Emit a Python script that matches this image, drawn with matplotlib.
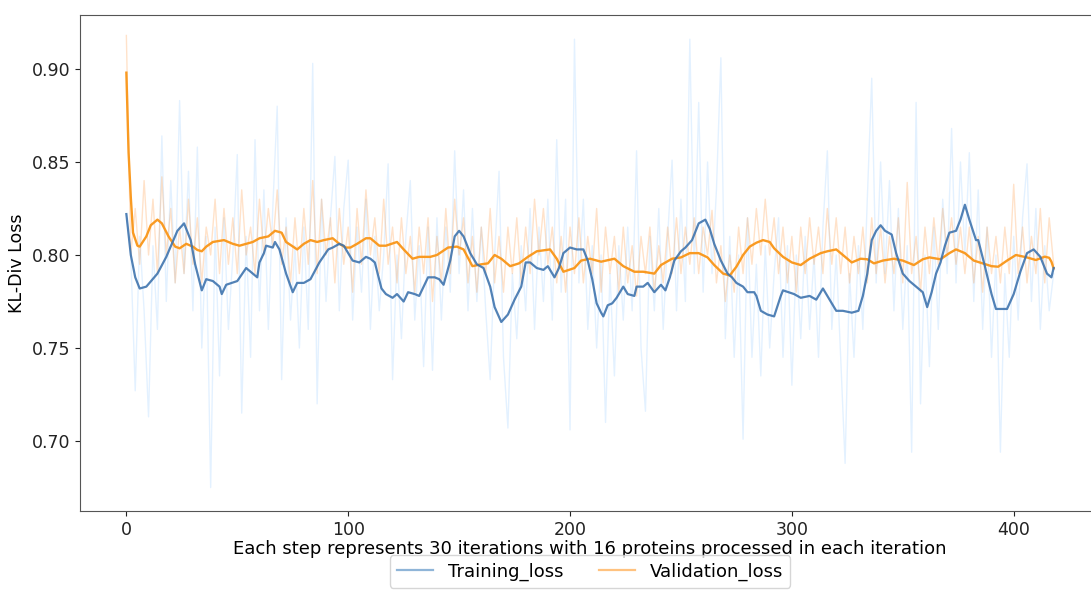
import numpy as np
import matplotlib
matplotlib.use("Agg")
import matplotlib.pyplot as plt
from matplotlib.lines import Line2D

# raw losses, sampled every 2 steps (0, 2, ..., 418)
raw_steps = np.arange(0, 419, 2)

train_raw = [
    .822, .800, .727, .810, .770, .713, .805, .760, .864, .775,
    .840, .785, .883, .790, .845, .770, .858, .750, .810, .675,
    .815, .735, .820, .760, .800, .854, .715, .810, .745, .862,
    .770, .835, .760, .825, .880, .733, .820, .765, .805, .750,
    .815, .760, .903, .720, .830, .775, .820, .853, .770, .825,
    .851, .765, .815, .780, .830, .760, .810, .770, .800, .849,
    .733, .800, .755, .810, .840, .765, .805, .740, .815, .738,
    .820, .765, .815, .780, .856, .790, .835, .770, .825, .775,
    .815, .770, .733, .800, .845, .745, .707, .790, .755, .805,
    .770, .825, .760, .815, .775, .830, .765, .862, .780, .830,
    .706, .916, .785, .830, .760, .805, .750, .800, .710, .790,
    .735, .805, .765, .815, .770, .856, .750, .716, .810, .770,
    .825, .760, .810, .851, .770, .830, .775, .916, .790, .882,
    .780, .850, .790, .835, .906, .755, .810, .745, .800, .701,
    .820, .745, .795, .735, .805, .750, .790, .820, .745, .805,
    .730, .800, .755, .810, .760, .800, .745, .815, .856, .760,
    .800, .745, .688, .790, .745, .805, .760, .830, .895, .785,
    .850, .790, .840, .770, .825, .760, .805, .694, .882, .720,
    .800, .740, .815, .760, .830, .790, .868, .785, .850, .800,
    .855, .775, .835, .760, .815, .745, .800, .694, .790, .745,
    .810, .765, .820, .849, .775, .825, .760, .805, .770, .790,
]

val_raw = [
    .918, .800, .825, .795, .840, .800, .830, .790, .842, .800,
    .825, .785, .815, .790, .830, .795, .820, .785, .815, .800,
    .830, .790, .825, .795, .820, .790, .835, .800, .815, .790,
    .830, .800, .825, .805, .835, .795, .815, .785, .820, .790,
    .825, .795, .840, .790, .830, .800, .820, .785, .825, .795,
    .815, .780, .825, .795, .835, .800, .820, .790, .830, .795,
    .815, .785, .820, .790, .810, .780, .815, .790, .820, .775,
    .810, .785, .825, .790, .830, .800, .820, .785, .810, .780,
    .815, .790, .825, .785, .810, .780, .815, .790, .820, .785,
    .815, .790, .830, .800, .825, .795, .815, .785, .810, .780,
    .815, .790, .820, .785, .810, .790, .825, .780, .815, .790,
    .810, .780, .815, .785, .805, .778, .810, .790, .815, .780,
    .805, .785, .815, .790, .820, .790, .815, .795, .820, .790,
    .815, .800, .824, .785, .805, .775, .800, .780, .815, .790,
    .820, .795, .825, .800, .830, .800, .820, .790, .815, .785,
    .810, .780, .815, .790, .820, .795, .815, .790, .825, .795,
    .820, .790, .815, .785, .810, .790, .815, .785, .820, .790,
    .815, .785, .810, .790, .820, .785, .839, .790, .810, .780,
    .815, .790, .820, .795, .825, .800, .820, .795, .815, .790,
    .815, .785, .810, .780, .815, .790, .810, .785, .815, .790,
    .838, .790, .815, .785, .810, .790, .825, .785, .820, .795,
]

# smoothed curves, read at selected steps
train_smooth_steps = [
    0, 2, 4, 6, 9, 14, 18, 23, 26, 27, 29, 31, 34, 36, 39, 42, 43, 45, 50, 54,
    59, 60, 62, 63, 66, 67, 69, 72, 75, 77, 80, 83, 87, 91, 93, 96, 98, 100, 102, 105,
    108, 110, 112, 115, 117, 120, 122, 125, 127, 130, 132, 134, 136, 139, 141, 143, 146, 148, 150, 152,
    155, 158, 161, 164, 166, 169, 172, 175, 178, 180, 182, 185, 188, 190, 193, 195, 197, 200, 203, 206,
    208, 210, 212, 214, 215, 217, 219, 221, 224, 226, 229, 230, 233, 235, 238, 241, 243, 245, 247, 250,
    252, 255, 258, 261, 263, 265, 268, 271, 273, 275, 278, 280, 283, 284, 286, 289, 292, 295, 296, 301,
    304, 308, 311, 314, 317, 320, 323, 327, 330, 332, 334, 336, 338, 340, 342, 345, 347, 350, 353, 356,
    359, 361, 363, 365, 367, 369, 371, 374, 376, 378, 380, 383, 384, 387, 390, 392, 397, 400, 403, 406,
    409, 412, 415, 417, 418,
]
train_smooth = [
    .822, .800, .788, .782, .783, .790, .799, .813, .817, .814, .808, .795, .781, .787, .786, .783, .779, .784, .786, .793,
    .788, .796, .801, .805, .804, .807, .803, .790, .780, .785, .785, .787, .796, .803, .804, .806, .805, .801, .797, .796,
    .799, .798, .796, .782, .779, .777, .779, .775, .780, .779, .778, .783, .788, .788, .787, .784, .797, .810, .813, .810,
    .801, .795, .793, .783, .772, .764, .768, .776, .783, .796, .796, .793, .792, .794, .788, .793, .801, .804, .803, .803,
    .797, .787, .774, .769, .767, .773, .774, .777, .783, .779, .778, .783, .783, .785, .780, .784, .781, .788, .797, .802,
    .804, .808, .817, .819, .814, .806, .797, .790, .788, .785, .783, .780, .780, .778, .770, .768, .767, .778, .781, .779,
    .777, .778, .776, .782, .776, .770, .770, .769, .770, .778, .790, .808, .813, .816, .813, .811, .801, .790, .786, .783,
    .780, .772, .780, .790, .796, .805, .812, .813, .819, .827, .819, .808, .808, .794, .779, .771, .771, .779, .791, .801,
    .803, .799, .790, .788, .793,
]

val_smooth_steps = [
    0, 1, 2, 3, 5, 6, 9, 11, 14, 16, 19, 22, 24, 27, 30, 32, 34, 36, 39, 44,
    48, 51, 54, 57, 60, 64, 67, 70, 72, 77, 80, 83, 86, 89, 93, 96, 99, 101, 104, 108,
    110, 114, 117, 122, 125, 129, 132, 137, 140, 145, 149, 152, 156, 160, 163, 166, 169, 173, 177, 181,
    185, 191, 194, 197, 202, 205, 209, 214, 220, 224, 229, 233, 238, 241, 246, 250, 254, 258, 262, 265,
    269, 272, 275, 278, 281, 284, 287, 290, 292, 296, 300, 304, 308, 313, 316, 320, 323, 327, 331, 334,
    337, 341, 346, 350, 355, 359, 362, 367, 371, 374, 378, 382, 386, 390, 393, 397, 401, 406, 410, 414,
    416, 417, 418,
]
val_smooth = [
    .898, .855, .831, .812, .805, .8045, .810, .816, .819, .817, .810, .8045, .8036, .806, .8045, .8027, .802, .8045, .807, .808,
    .806, .805, .806, .807, .809, .810, .813, .812, .807, .803, .806, .808, .807, .808, .809, .806, .804, .804, .806, .809,
    .809, .805, .805, .807, .803, .798, .799, .799, .800, .804, .8045, .803, .794, .795, .7955, .800, .798, .794, .7955, .799,
    .802, .803, .798, .791, .793, .797, .798, .7964, .798, .794, .791, .791, .790, .7946, .798, .7987, .801, .801, .7987, .7946,
    .790, .789, .7937, .800, .8045, .8066, .808, .807, .8036, .799, .796, .7946, .798, .801, .802, .803, .800, .796, .798, .7977,
    .7955, .797, .798, .797, .7946, .7977, .7987, .7977, .801, .803, .801, .797, .7955, .794, .7937, .797, .800, .7987, .7973, .7991,
    .7985, .7964, .7928,
]

xticks = [0, 100, 200, 300, 400]
yticks = [0.70, 0.75, 0.80, 0.85, 0.90]

fig = plt.figure(figsize=(10.91, 5.90), dpi=100)
ax = fig.add_axes([80 / 1091, 79 / 590, 1020 / 1091, 496 / 590])

ax.plot(raw_steps, train_raw, color="dodgerblue", alpha=0.12, lw=1)
ax.plot(raw_steps, val_raw, color="#ff7f0e", alpha=0.22, lw=1)
ax.plot(val_smooth_steps, val_smooth, color="#f99a22", lw=1.7)
ax.plot(train_smooth_steps, train_smooth, color="#3f74ae", alpha=0.9, lw=1.6)

ax.set_xlim(-20.9, 438.9)
ax.set_ylim(0.6624, 0.929)
ax.set_xticks(xticks)
ax.set_yticks(yticks)
ax.set_yticklabels(["%.2f" % v for v in yticks])
ax.tick_params(labelsize=12.5, colors="#222222")
for s in ax.spines.values():
    s.set_color("#555555")

ax.set_xlabel("Each step represents 30 iterations with 16 proteins processed in each iteration",
              fontsize=13, labelpad=1)
ax.set_ylabel("KL-Div Loss", fontsize=12.5)

handles = [Line2D([], [], color="#8fb5d8", lw=1.6), Line2D([], [], color="#ffc27f", lw=1.6)]
ax.legend(handles, ["Training_loss", "Validation_loss"], loc="upper center",
          bbox_to_anchor=(0.5, -0.078), ncol=2, fontsize=13, frameon=True,
          borderaxespad=0.3)

fig.savefig("out.png", dpi=100)
